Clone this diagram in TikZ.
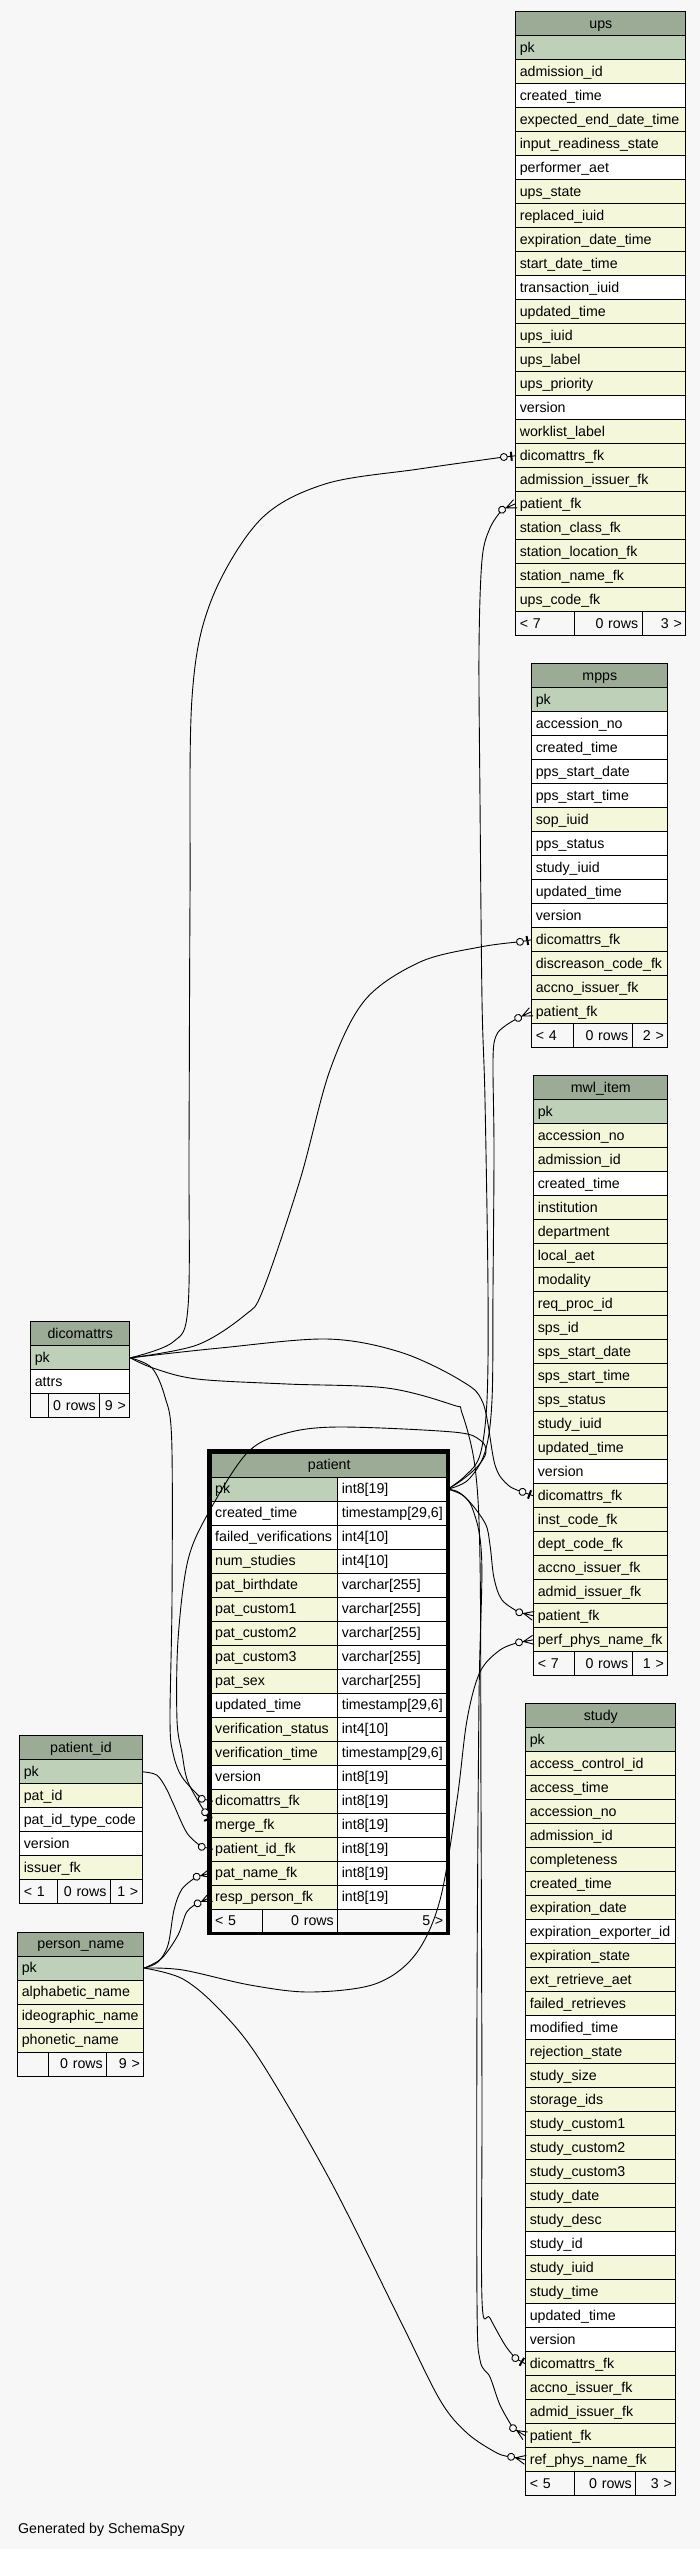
\documentclass[tikz,border=0pt]{standalone}
\usepackage{fontspec}
\setmainfont{Liberation Sans}
\definecolor{bgc}{HTML}{F7F7F7}
\definecolor{cH}{HTML}{9BAB96}
\definecolor{cG}{HTML}{BED1B8}
\definecolor{cY}{HTML}{F4F7DA}
\definecolor{cW}{HTML}{FFFFFF}
\definecolor{cF}{HTML}{F7F7F7}
\tikzset{
  ercell/.style={draw=black, line width=1pt, inner xsep=4pt, inner ysep=0pt, minimum height=24pt, text height=11.5pt, text depth=3pt, font=\fontsize{14.2}{16}\selectfont, align=left},
  erhdr/.style={ercell, fill=cH, align=center},
  conn/.style={draw=black, line width=0.9pt},
  mkline/.style={draw=black, line width=0.9pt},
  mcrowc/.pic={\begin{scope}[rotate=#1]\coordinate (-c) at (-14.5,0);\end{scope}},
  monec/.pic={\begin{scope}[rotate=#1]\coordinate (-c) at (-11.5,0);\end{scope}},
  mcrow/.pic={\begin{scope}[rotate=#1]
      \draw[mkline] (-14.5,0) -- (0,0) (-10,0) -- (0,4.5) (-10,0) -- (0,-4.5);
      \draw[mkline,fill=bgc] (-14.5,0) circle[radius=3.5];\end{scope}},
  mone/.pic={\begin{scope}[rotate=#1]
      \draw[mkline] (-11.5,0) -- (0,0);
      \draw[line width=2pt] (-4,-4.5) -- (-4,4.5);
      \draw[mkline,fill=bgc] (-11.5,0) circle[radius=3.5];\end{scope}},
}
% table: name, x left, x right, y top, title, rows
\newcommand\ertable[6]{%
  \pgfmathsetmacro\tw{#3-#2}%
  \pgfmathsetmacro\tww{#3-#2-8}%
  \node[erhdr, minimum width=\tw pt, text width=\tww pt, anchor=north west] (#1-h) at (#2,#4) {#5};
  \foreach \rc/\rt [count=\i from 0] in {#6}{%
    \node[ercell, fill=c\rc, minimum width=\tw pt, text width=\tww pt, anchor=north west] (#1-\i) at (#2,{#4+24+24*\i}) {\mbox{\rt}};
  }%
}
% footer: name, xl, d1, d2, xr, ytop, t1, t2, t3
\newcommand\erfoot[9]{%
  \pgfmathsetmacro\wa{#3-#2}\pgfmathsetmacro\waa{#3-#2-8}%
  \pgfmathsetmacro\wb{#4-#3}\pgfmathsetmacro\wbb{#4-#3-8}%
  \pgfmathsetmacro\wc{#5-#4}\pgfmathsetmacro\wcc{#5-#4-8}%
  \node[ercell, fill=cF, minimum width=\wa pt, text width=\waa pt, anchor=north west] (#1-fa) at (#2,#6) {\mbox{#7}};
  \node[ercell, fill=cF, align=right, minimum width=\wb pt, text width=\wbb pt, anchor=north west] (#1-fb) at (#3,#6) {\mbox{#8}};
  \node[ercell, fill=cF, align=right, minimum width=\wc pt, text width=\wcc pt, anchor=north west] (#1-fc) at (#4,#6) {\mbox{#9}};
}
\newcommand\allmarkers[1]{%
  #1{mUpsDic}{ups-17.west}{6}{mone}%
  #1{mUpsPat}{ups-19.west}{24}{mcrow}%
  #1{mMppsDic}{mpps-10.west}{10}{mone}%
  #1{mMppsPat}{mpps-13.west}{25}{mcrow}%
  #1{mMwlDic}{mwl-16.west}{-20}{mone}%
  #1{mMwlPat}{mwl-21.west}{-14}{mcrow}%
  #1{mMwlPerf}{mwl-22.west}{10}{mcrow}%
  #1{mStuDic}{study-26.west}{-30}{mone}%
  #1{mStuPat}{study-29.west}{-32}{mcrow}%
  #1{mStuRef}{study-30.west}{-12}{mcrow}%
  #1{mPatDic}{[xshift=2.3pt]patient-13.west}{-12}{mone}%
  #1{mPatMerge}{[xshift=-0.8pt,yshift=2.6pt]patient-14.west}{-65}{mone}%
  #1{mPatPid}{[xshift=2.3pt]patient-15.west}{-12}{mone}%
  #1{mPatName}{patient-16.west}{14}{mcrow}%
  #1{mPatResp}{patient-17.west}{25}{mcrow}%
}
\newcommand\mkc[4]{\pic (#1) at (#2) {#4c=#3};}
\newcommand\mkd[4]{\pic at (#2) {#4=#3};}

\begin{document}
\begin{tikzpicture}[x=1pt,y=-1pt]
\useasboundingbox (0,0) rectangle (700,2549);
\fill[bgc] (0,0) rectangle (700,2549);

% ---------- ups
\ertable{ups}{515.3}{685.3}{11.3}{ups}{G/pk, Y/admission\_id, W/created\_time, Y/expected\_end\_date\_time, Y/input\_readiness\_state, W/performer\_aet, Y/ups\_state, Y/replaced\_iuid, Y/expiration\_date\_time, Y/start\_date\_time, W/transaction\_iuid, Y/updated\_time, Y/ups\_iuid, Y/ups\_label, Y/ups\_priority, W/version, Y/worklist\_label, Y/dicomattrs\_fk, Y/admission\_issuer\_fk, Y/patient\_fk, Y/station\_class\_fk, Y/station\_location\_fk, Y/station\_name\_fk, Y/ups\_code\_fk}
\erfoot{ups}{515.3}{574}{641.7}{685.3}{611.3}{< 7}{0 rows}{3 >}

% ---------- mpps
\ertable{mpps}{531.3}{667.3}{663.3}{mpps}{G/pk, W/accession\_no, W/created\_time, W/pps\_start\_date, W/pps\_start\_time, Y/sop\_iuid, W/pps\_status, W/study\_iuid, W/updated\_time, W/version, Y/dicomattrs\_fk, Y/discreason\_code\_fk, Y/accno\_issuer\_fk, Y/patient\_fk}
\erfoot{mpps}{531.3}{573.3}{631.7}{667.3}{1023.3}{< 4}{0 rows}{2 >}

% ---------- mwl_item
\ertable{mwl}{533.3}{667.3}{1075.3}{mwl\_item}{G/pk, Y/accession\_no, Y/admission\_id, W/created\_time, Y/institution, Y/department, Y/local\_aet, Y/modality, Y/req\_proc\_id, Y/sps\_id, Y/sps\_start\_date, Y/sps\_start\_time, Y/sps\_status, Y/study\_iuid, Y/updated\_time, W/version, Y/dicomattrs\_fk, Y/inst\_code\_fk, Y/dept\_code\_fk, Y/accno\_issuer\_fk, Y/admid\_issuer\_fk, Y/patient\_fk, Y/perf\_phys\_name\_fk}
\erfoot{mwl}{533.3}{574.3}{631.7}{667.3}{1651.3}{< 7}{0 rows}{1 >}

% ---------- study
\ertable{study}{525.3}{675.3}{1703.3}{study}{G/pk, Y/access\_control\_id, Y/access\_time, Y/accession\_no, Y/admission\_id, Y/completeness, Y/created\_time, Y/expiration\_date, W/expiration\_exporter\_id, Y/expiration\_state, Y/ext\_retrieve\_aet, Y/failed\_retrieves, W/modified\_time, Y/rejection\_state, Y/study\_size, Y/storage\_ids, Y/study\_custom1, Y/study\_custom2, Y/study\_custom3, Y/study\_date, Y/study\_desc, W/study\_id, Y/study\_iuid, Y/study\_time, W/updated\_time, W/version, Y/dicomattrs\_fk, Y/accno\_issuer\_fk, Y/admid\_issuer\_fk, Y/patient\_fk, Y/ref\_phys\_name\_fk}
\erfoot{study}{525.3}{574.3}{635.3}{675.3}{2471.3}{< 5}{0 rows}{3 >}

% ---------- dicomattrs
\ertable{dic}{30.3}{129.3}{1321.3}{dicomattrs}{G/pk, W/attrs}
\erfoot{dic}{30.3}{47.7}{99.3}{129.3}{1393.3}{}{0 rows}{9 >}

% ---------- patient_id
\ertable{pid}{19.3}{141.7}{1735.3}{patient\_id}{G/pk, Y/pat\_id, W/pat\_id\_type\_code, W/version, Y/issuer\_fk}
\erfoot{pid}{19.3}{57}{110}{141.7}{1879.3}{< 1}{0 rows}{1 >}

% ---------- person_name
\ertable{pn}{17.3}{143.3}{1931.5}{person\_name}{G/pk, Y/alphabetic\_name, Y/ideographic\_name, Y/phonetic\_name}
\erfoot{pn}{17.3}{47.7}{106.3}{143.3}{2051.5}{}{0 rows}{9 >}

% ---------- patient
\node[erhdr, minimum width=236pt, text width=228pt, anchor=north west] (patient-h) at (210.7,1452.7) {patient};
\foreach \rc/\rn/\rt [count=\i from 0] in {G/pk/int8[19], W/created\_time/{timestamp[29,6]}, W/failed\_verifications/int4[10], Y/num\_studies/int4[10], Y/pat\_birthdate/varchar[255], Y/pat\_custom1/varchar[255], Y/pat\_custom2/varchar[255], Y/pat\_custom3/varchar[255], Y/pat\_sex/varchar[255], W/updated\_time/{timestamp[29,6]}, Y/verification\_status/int4[10], Y/verification\_time/{timestamp[29,6]}, W/version/int8[19], Y/dicomattrs\_fk/int8[19], Y/merge\_fk/int8[19], Y/patient\_id\_fk/int8[19], Y/pat\_name\_fk/int8[19], Y/resp\_person\_fk/int8[19]}{%
  \node[ercell, fill=c\rc, minimum width=126.6pt, text width=118.6pt, anchor=north west] (patient-\i) at (210.7,{1476.7+24*\i}) {\mbox{\rn}};
  \node[ercell, fill=cW, minimum width=109.4pt, text width=101.4pt, anchor=north west] (patientT-\i) at (337.3,{1476.7+24*\i}) {\mbox{\rt}};
}
\erfoot{patient}{210.7}{262.3}{337.3}{446.7}{1908.7}{< 5}{0 rows}{5 >}
\draw[line width=3.4pt] (209,1451) rectangle (448,1933.3);

% ---------- marker coordinates
\allmarkers\mkc

% ---------- connectors
% dicomattrs -> ups
\draw[conn] plot[smooth, tension=0.55] coordinates {(dic-0.east) (173,1342) (188,1307) (189,1150) (190,900) (192,698) (211,601) (260,520) (325,484) (419,469) (mUpsDic-c)};
% dicomattrs -> mpps
\draw[conn] plot[smooth, tension=0.55] coordinates {(dic-0.east) (197,1345) (245,1315) (263,1290) (300,1180) (330,1070) (365,1000) (420,962) (480,947) (mMppsDic-c)};
% dicomattrs -> mwl_item
\draw[conn] plot[smooth, tension=0.55] coordinates {(dic-0.east) (220,1348) (327,1339) (400,1352) (460,1380) (483,1403) (495,1465) (508,1485) (mMwlDic-c)};
% dicomattrs -> study
\draw[conn] plot[smooth, tension=0.55] coordinates {(dic-0.east) (153,1368) (197,1379) (287,1384) (387,1388) (453,1405) (462,1413) (475,1467) (480,1560) (481,1800) (482,2100) (482,2300) (490,2318) (505,2345) (mStuDic-c)};
% dicomattrs -> patient
\draw[conn] plot[smooth, tension=0.55] coordinates {(dic-0.east) (152,1368) (165,1397) (171.7,1440) (172,1600) (170,1720) (173,1753) (182,1777) (mPatDic-c)};
% patient -> patient (merge)
\draw[conn] plot[smooth, tension=0.55] coordinates {(patientT-0.east) (462,1480) (478,1466) (486,1452) (480,1440) (453,1432) (337,1427) (283,1434) (247,1453) (210,1510) (188,1560) (178,1640) (177,1720) (182,1753) (188,1782) (mPatMerge-c)};
% patient -> ups
\draw[conn] plot[smooth, tension=0.55] coordinates {(patientT-0.east) (465,1476) (480,1455) (487,1400) (488,1290) (485,1100) (482,1000) (480,800) (479,650) (482,560) (490,528) (mUpsPat-c)};
% patient -> mpps
\draw[conn] plot[smooth, tension=0.55] coordinates {(patientT-0.east) (468,1480) (485,1452) (492,1400) (493,1290) (494,1150) (493,1060) (496,1036) (505,1026) (mMppsPat-c)};
% patient -> mwl_item
\draw[conn] plot[smooth, tension=0.55] coordinates {(patientT-0.east) (465,1497) (485,1523) (490,1545) (494,1578) (502,1600) (mMwlPat-c)};
% patient -> study
\draw[conn] plot[smooth, tension=0.55] coordinates {(patientT-0.east) (460,1493) (473,1510) (481.7,1560) (479,1700) (477,2000) (477,2300) (480,2360) (490,2377) (500,2405) (mStuPat-c)};
% patient_id -> patient
\draw[conn] plot[smooth, tension=0.55] coordinates {(pid-0.east) (156.7,1775) (166,1788) (173,1803) (187,1833) (mPatPid-c)};
% person_name -> patient (pat_name_fk)
\draw[conn] plot[smooth, tension=0.55] coordinates {(pn-0.east) (158,1962) (168,1945) (174,1910) (182,1889) (mPatName-c)};
% person_name -> patient (resp_person_fk)
\draw[conn] plot[smooth, tension=0.55] coordinates {(pn-0.east) (162,1958) (178,1935) (186.7,1912) (mPatResp-c)};
% person_name -> mwl_item
\draw[conn] plot[smooth, tension=0.55] coordinates {(pn-0.east) (183,1970) (250,1985) (310,1992) (375,1984) (415,1955) (440,1900) (457,1800) (467,1720) (480,1672) (500,1650) (mMwlPerf-c)};
% person_name -> study
\draw[conn] plot[smooth, tension=0.55] coordinates {(pn-0.east) (183,1979) (220,2010) (260,2060) (330,2180) (400,2320) (440,2400) (467,2433) (497,2453) (mStuRef-c)};

% ---------- markers
\allmarkers\mkd

\node[font=\fontsize{14.2}{16}\selectfont, anchor=base west, inner sep=0pt] (gen) at (18,2533) {Generated by SchemaSpy};
\end{tikzpicture}
\end{document}
